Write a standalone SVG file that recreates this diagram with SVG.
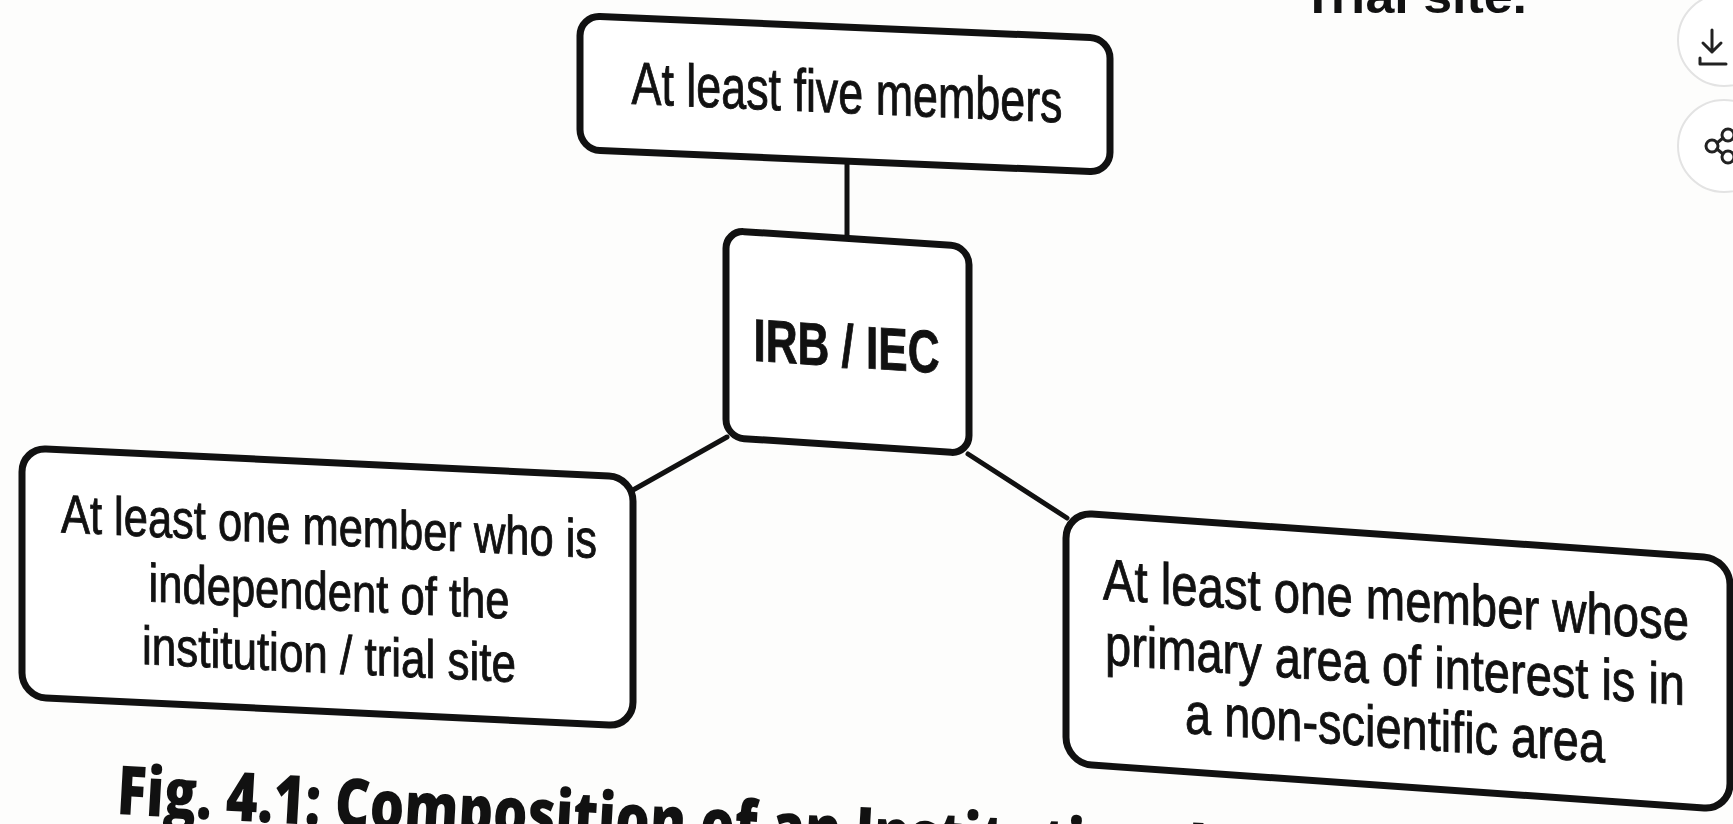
<svg xmlns="http://www.w3.org/2000/svg" width="1733" height="824" viewBox="0 0 1733 824">
<defs>
<style>
.box{fill:#fff;stroke:#111;stroke-width:7}
.t{font-family:"Liberation Sans",Arial,sans-serif;fill:#111;stroke:#111;stroke-width:0.9;text-anchor:middle}
.b{font-weight:bold}
.con{stroke:#111;stroke-width:5;fill:none;stroke-linecap:round}
.ui{fill:#fff;stroke:#e3e3e3;stroke-width:2}
.ico{fill:none;stroke:#222;stroke-width:3;stroke-linecap:round;stroke-linejoin:round}
</style>
</defs>
<rect width="1733" height="824" fill="#fdfdfc"/>
<g id="connectors">
<line class="con" x1="847" y1="160" x2="847" y2="239"/>
<line class="con" x1="727" y1="437" x2="633" y2="490"/>
<line class="con" x1="968" y1="454" x2="1067" y2="518"/>
</g>
<g id="node-five" transform="translate(845,94) skewY(2.46)">
<rect class="box" x="-265" y="-67" width="530" height="134" rx="20"/>
<text class="t" x="2" y="19" font-size="60" textLength="431" lengthAdjust="spacingAndGlyphs">At least five members</text>
</g>
<g id="node-irb" transform="translate(847.5,342) skewY(3.8)">
<rect class="box" x="-121.5" y="-103.5" width="243" height="207" rx="18"/>
<text class="t b" x="-1" y="25" font-size="60" textLength="186" lengthAdjust="spacingAndGlyphs">IRB / IEC</text>
</g>
<g id="node-independent" transform="translate(327.5,587) skewY(2.75)">
<rect class="box" x="-305.5" y="-124.5" width="611" height="249" rx="24"/>
<text class="t" x="1.5" y="-42" font-size="54" textLength="536" lengthAdjust="spacingAndGlyphs">At least one member who is</text>
<text class="t" x="1.5" y="23" font-size="54" textLength="361" lengthAdjust="spacingAndGlyphs">independent of the</text>
<text class="t" x="1.5" y="86" font-size="54" textLength="374" lengthAdjust="spacingAndGlyphs">institution / trial site</text>
</g>
<g id="node-nonscientific" transform="translate(1398,661) skewY(4.0)">
<rect class="box" x="-332" y="-125.5" width="664" height="251" rx="26"/>
<text class="t" x="-2" y="-41" font-size="58" textLength="586" lengthAdjust="spacingAndGlyphs">At least one member whose</text>
<text class="t" x="-3" y="24" font-size="58" textLength="580" lengthAdjust="spacingAndGlyphs">primary area of interest is in</text>
<text class="t" x="-3" y="87" font-size="58" textLength="420" lengthAdjust="spacingAndGlyphs">a non-scientific area</text>
</g>
<g id="caption" transform="rotate(3.2 116 814)">
<text x="116" y="814" font-family="'Open Sans','Liberation Sans',sans-serif" font-weight="800" font-size="68" fill="#111" textLength="1090" lengthAdjust="spacingAndGlyphs">Fig. 4.1: Composition of an Institutional</text>
</g>
<text x="1302" y="13" font-family="'Liberation Sans',sans-serif" font-weight="bold" font-size="48" fill="#111" textLength="225" lengthAdjust="spacingAndGlyphs">Trial site.</text>
<g id="ui-buttons">
<circle class="ui" cx="1724" cy="40" r="46"/>
<path class="ico" d="M1712 30 v22 M1703 43 l9 9 l9 -9 M1700 58 v6 h26"/>
<circle class="ui" cx="1724" cy="146" r="46"/>
<circle class="ico" cx="1712" cy="146" r="6"/>
<circle class="ico" cx="1728" cy="135" r="6"/>
<circle class="ico" cx="1728" cy="157" r="6"/>
<path class="ico" d="M1717 143 l6 -5 M1717 149 l6 5"/>
</g>
</svg>
